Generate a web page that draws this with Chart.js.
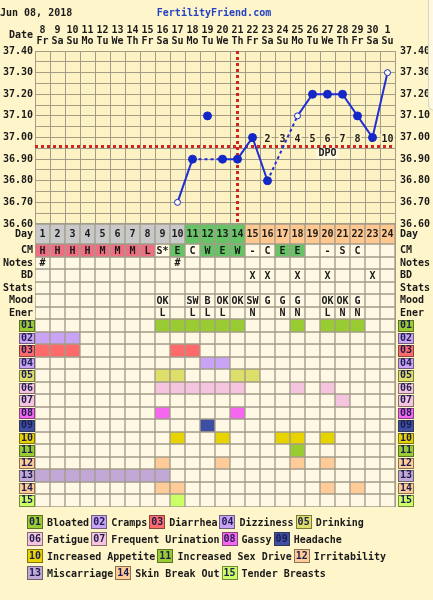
<!DOCTYPE html>
<html>
<head>
<meta charset="utf-8">
<title>Fertility chart</title>
<script src="https://cdn.jsdelivr.net/npm/chart.js@4.4.1/dist/chart.umd.min.js"></script>
<style>
html, body { margin: 0; padding: 0; }
body { width: 433px; height: 600px; overflow: hidden; position: relative; background: #FFF5CA;
  font-family: "DejaVu Sans Mono", monospace; font-weight: bold; font-size: 10px; color: #1a1a1a; }
#ff { position: absolute; left: 0; top: 0; }
.lbl { position: absolute; line-height: 12px; white-space: pre; }
#stamp { left: 0; top: 7px; }
#site { left: 0; width: 428px; top: 7px; text-align: center; color: #2443C4; }
#dateLbl { right: 400px; top: 29px; }
.lg-row { position: absolute; left: 27px; height: 14px; display: flex; align-items: center; white-space: pre; }
.lg-box { box-sizing: border-box; width: 16px; height: 14px; border: 1px solid rgba(40,40,20,0.55);
  text-align: center; line-height: 12px; color: #1c1c50; margin-right: 4px; }
.lg-text { margin-right: 2px; }
#edge { position: absolute; left: 428px; top: 0; width: 5px; height: 110px; border-left: 1px solid #DAD5C0;
  border-bottom: 1px solid #DAD5C0; border-bottom-left-radius: 6px; background: #FFF9E2; }
</style>
</head>
<body>
<canvas id="ff" width="433" height="600"></canvas>
<div id="stamp" class="lbl">Jun 08, 2018</div>
<div id="site" class="lbl">FertilityFriend.com</div>
<div id="dateLbl" class="lbl">Date</div>
<div id="legend"></div>
<div id="edge"></div>
<script>
/* Cycle chart: temperature curve on top, observation rows and symptom grid below */

// chart data
const cycleDays = ['1','2','3','4','5','6','7','8','9','10','11','12','13','14','15','16','17','18','19','20','21','22','23','24'];
const dates = ['8','9','10','11','12','13','14','15','16','17','18','19','20','21','22','23','24','25','26','27','28','29','30','1'];
const weekdays = ['Fr','Sa','Su','Mo','Tu','We','Th','Fr','Sa','Su','Mo','Tu','We','Th','Fr','Sa','Su','Mo','Tu','We','Th','Fr','Sa','Su'];
const tempLabels = ['36.60','36.70','36.80','36.90','37.00','37.10','37.20','37.30','37.40'];

const temps = [null, null, null, null, null, null, null, null, null, 36.70, 36.90, null,
  36.90, 36.90, 37.00, 36.80, null, 37.10, 37.20, 37.20, 37.20, 37.10, 37.00, 37.30];
const discardedTemps = [null, null, null, null, null, null, null, null, null, null, null, 37.10,
  null, null, null, null, null, null, null, null, null, null, null, null];
const openCircleDays = [10, 18, 24];
const coverline = 36.96;
const ovulationDay = 14;
const fertileDays = [11, 12, 13, 14];
const dpo = ['','','','','','','','','','','','','','','1','2','3','4','5','6','7','8','9','10'];

const cm = ['H','H','H','H','M','M','M','L','S*','E','C','W','E','W','-','C','E','E','','-','S','C','',''];
const notes = ['#','','','','','','','','','#','','','','','','','','','','','','','',''];
const bd = ['','','','','','','','','','','','','','','X','X','','X','','X','','','X',''];
const stats = ['','','','','','','','','','','','','','','','','','','','','','','',''];
const mood = ['','','','','','','','','OK','','SW','B','OK','OK','SW','G','G','G','','OK','OK','G','',''];
const energy = ['','','','','','','','','L','','L','L','L','','N','','N','N','','L','N','N','',''];

const symptomCodes = ['01','02','03','04','05','06','07','08','09','10','11','12','13','14','15'];
const symptomNames = ['Bloated','Cramps','Diarrhea','Dizziness','Drinking','Fatigue','Frequent Urination',
  'Gassy','Headache','Increased Appetite','Increased Sex Drive','Irritability','Miscarriage',
  'Skin Break Out','Tender Breasts'];
const symptomDays = [
  [9, 10, 11, 12, 13, 14, 18, 20, 21, 22],
  [1, 2, 3],
  [1, 2, 3, 10, 11],
  [12, 13],
  [9, 10, 14, 15],
  [9, 10, 11, 12, 13, 14, 18, 20],
  [21],
  [9, 14],
  [12],
  [10, 13, 17, 18, 20],
  [18],
  [9, 13, 18, 20],
  [1, 2, 3, 4, 5, 6, 7, 8, 9],
  [9, 10, 20, 22],
  [10]
];

// styles
const symptomColors = ['#99CC33','#C9A3F5','#FF6B6B','#C9A3F5','#DEDE6A','#F5C4DE','#F5C4DE','#F766F0',
  '#3E4FA3','#E6D300','#99CC33','#FFCC99','#C2A8D6','#FFCC99','#CCFF66'];
const INK = '#1a1a1a', CODE_INK = '#1c1c50';
const PLOT_BG = '#FDF2C4', CELL_BG = '#FFF8E4', CELL_LINE = '#A39D8A', GRID = '#A39D86';
const RED = '#D02525', BLUE = '#1F2FD6', DOT = '#1428C8', HOLLOW = '#FFF8EE';
const DAY_GRAY = '#C9C9C9', GREEN = '#66C466', PEACH = '#FFC890', PINK = '#EF6F82';
const FONT = '"DejaVu Sans Mono", monospace';
const FONT_STR = 'bold 10px ' + FONT;

// layout (pixels)
const W = 433, H = 600, TOP = 51, LEFT = 35, RIGHT = 395, TEMP_BOTTOM = 224, BOTTOM = 507;
const tempLow = 36.60, tempHigh = 37.40;
const pxPerDeg = (TEMP_BOTTOM - TOP) / (tempHigh - tempLow);
const tempAxisMin = tempLow - (BOTTOM - TEMP_BOTTOM) / pxPerDeg;
const DAY_ROW_H = 20;
const rowLabels = ['Day','CM','Notes','BD','Stats','Mood','Ener'].concat(symptomCodes);
const INFO_ROWS = 7;
const rowEdges = [0, DAY_ROW_H];
for (let i = 1; i < rowLabels.length; i++) {
  rowEdges.push(DAY_ROW_H + Math.round(i * (BOTTOM - TEMP_BOTTOM - DAY_ROW_H) / (rowLabels.length - 1)));
}
// table rows hang below the temperature range on the same y scale
const rowValue = px => tempLow - px / pxPerDeg;

// side ticks: temperature gridlines plus one label per table row
const sideTicks = [];
for (let k = 0; k <= 16; k++) {
  const v = Math.round((tempLow + k * 0.05) * 100) / 100;
  const s = v.toFixed(2);
  sideTicks.push({ value: v, label: tempLabels.includes(s) ? s : '', kind: 'temp' });
}
rowLabels.forEach((lab, r) => {
  sideTicks.push({ value: rowValue((rowEdges[r] + rowEdges[r + 1]) / 2), label: lab, kind: r >= INFO_ROWS ? 'sym' : 'row' });
});
sideTicks.sort((a, b) => a.value - b.value);

function cmColor(c) {
  if (c === 'H' || c === 'M' || c === 'L') return PINK;
  if (c === 'E' || c === 'W') return GREEN;
  return CELL_BG;
}
function dayColor(d) {
  if (fertileDays.includes(d)) return GREEN;
  if (d > ovulationDay) return PEACH;
  return DAY_GRAY;
}
function rowColors(r) {
  return cycleDays.map((_, i) => {
    const d = i + 1;
    if (r === 0) return dayColor(d);
    if (r === 1) return cmColor(cm[i]);
    if (r >= INFO_ROWS) {
      const s = r - INFO_ROWS;
      return symptomDays[s].includes(d) ? symptomColors[s] : CELL_BG;
    }
    return CELL_BG;
  });
}

// dashed where the curve jumps over a day with no temperature
const gapDash = c => (temps[c.p1DataIndex - 1] == null ? [3, 3] : undefined);

const datasets = [];
datasets.push({
  type: 'line', yAxisID: 'y', data: temps, order: 0,
  borderColor: BLUE, borderWidth: 2, spanGaps: true,
  segment: { borderDash: gapDash },
  pointRadius: temps.map((_, i) => openCircleDays.includes(i + 1) ? 3 : 4),
  pointBackgroundColor: temps.map((_, i) => openCircleDays.includes(i + 1) ? HOLLOW : DOT),
  pointBorderColor: DOT, pointBorderWidth: 1
});
datasets.push({
  type: 'line', yAxisID: 'y', data: discardedTemps, order: 0, showLine: false,
  pointRadius: 4, pointBackgroundColor: DOT, pointBorderColor: DOT, pointBorderWidth: 1
});
rowLabels.forEach((_, r) => {
  datasets.push({
    type: 'bar', yAxisID: 'y', grouped: false, order: 5,
    data: cycleDays.map(() => [rowValue(rowEdges[r + 1]), rowValue(rowEdges[r])]),
    backgroundColor: rowColors(r), borderColor: CELL_LINE, borderWidth: 1, borderSkipped: false,
    barPercentage: 1, categoryPercentage: 1
  });
});

const cellText = [[0, cycleDays], [1, cm], [2, notes], [3, bd], [4, stats], [5, mood], [6, energy]];

const sheet = {
  id: 'sheet',
  beforeDraw(chart) {
    const { ctx, chartArea: a, scales } = chart;
    const yT = scales.y;
    const rowPx = v => yT.getPixelForValue(rowValue(v));
    ctx.save();
    ctx.fillStyle = PLOT_BG;
    ctx.fillRect(a.left, a.top, a.right - a.left, yT.getPixelForValue(tempLow) - a.top);
    symptomCodes.forEach((code, i) => {
      const r = INFO_ROWS + i;
      const top = Math.round(rowPx(rowEdges[r])) + 1;
      const h = Math.round(rowPx(rowEdges[r + 1])) - top;
      [a.left - 16, a.right + 3].forEach(bx => {
        ctx.fillStyle = symptomColors[i];
        ctx.fillRect(bx, top, 16, h);
        ctx.strokeStyle = 'rgba(40,40,20,0.55)';
        ctx.lineWidth = 1;
        ctx.strokeRect(bx + 0.5, top + 0.5, 15, h - 1);
      });
    });
    ctx.restore();
  },
  beforeDatasetsDraw(chart) {
    const { ctx, chartArea: a, scales } = chart;
    const x = scales.x, yT = scales.y;
    const yBase = yT.getPixelForValue(tempLow);
    ctx.save();
    // coverline and ovulation line
    ctx.strokeStyle = RED; ctx.lineWidth = 3; ctx.setLineDash([3, 3]);
    const yC = Math.round(yT.getPixelForValue(coverline)) + 0.5;
    ctx.beginPath(); ctx.moveTo(a.left, yC); ctx.lineTo(a.right, yC); ctx.stroke();
    const xo = x.getPixelForValue(ovulationDay - 1);
    ctx.beginPath(); ctx.moveTo(xo, a.top); ctx.lineTo(xo, yBase); ctx.stroke();
    ctx.setLineDash([]);
    // days past ovulation
    ctx.font = FONT_STR; ctx.textAlign = 'center'; ctx.textBaseline = 'middle';
    const yD = yT.getPixelForValue(37.00) + 1.5;
    dpo.forEach((t, i) => {
      if (!t) return;
      const xc = x.getPixelForValue(i);
      const w = ctx.measureText(t).width;
      ctx.fillStyle = PLOT_BG;
      ctx.fillRect(xc - w / 2 - 1, yD - 5, w + 2, 10);
      ctx.fillStyle = INK;
      ctx.fillText(t, xc, yD);
    });
    const xl = x.getPixelForValue(ovulationDay + 5);
    const yl = yC + 7;
    const wl = ctx.measureText('DPO').width;
    ctx.fillStyle = CELL_BG;
    ctx.fillRect(xl - wl / 2 - 2, yl - 5, wl + 4, 10);
    ctx.fillStyle = INK;
    ctx.fillText('DPO', xl, yl);
    ctx.restore();
  },
  afterDatasetsDraw(chart) {
    const { ctx, scales } = chart;
    const x = scales.x, yT = scales.y;
    ctx.save();
    ctx.font = FONT_STR; ctx.textAlign = 'center'; ctx.textBaseline = 'middle'; ctx.fillStyle = INK;
    cellText.forEach(([r, arr]) => {
      const yc = yT.getPixelForValue(rowValue((rowEdges[r] + rowEdges[r + 1]) / 2)) + 0.5;
      arr.forEach((t, i) => { if (t) ctx.fillText(t, x.getPixelForValue(i), yc); });
    });
    ctx.restore();
  }
};

const sideAxis = (position, width, padding, showGrid) => ({
  type: 'linear', position, min: tempAxisMin, max: tempHigh, bounds: 'data',
  afterBuildTicks: s => { s.ticks = sideTicks.map(t => ({ value: t.value })); },
  afterFit: s => { s.width = width; },
  grid: {
    display: showGrid, drawTicks: false, lineWidth: 1,
    color: c => (sideTicks[c.index] && sideTicks[c.index].kind === 'temp' ? GRID : 'rgba(0,0,0,0)')
  },
  border: { display: false },
  ticks: {
    autoSkip: false, padding,
    color: c => (sideTicks[c.index] && sideTicks[c.index].kind === 'sym' ? CODE_INK : INK),
    font: { family: FONT, size: 10, weight: 'bold' },
    callback: (v, i) => sideTicks[i].label
  }
});

new Chart(document.getElementById('ff'), {
  type: 'bar',
  data: { labels: cycleDays, datasets },
  options: {
    responsive: false, animation: false, events: [], devicePixelRatio: 1,
    layout: { padding: { top: 0, left: 0, right: 0, bottom: H - BOTTOM } },
    plugins: { legend: { display: false }, tooltip: { enabled: false } },
    scales: {
      x: {
        type: 'category', position: 'top', offset: true,
        grid: { offset: true, color: GRID, drawTicks: false, lineWidth: 1 },
        border: { color: GRID },
        afterFit: s => { s.height = TOP; },
        ticks: {
          autoSkip: false, maxRotation: 0, padding: 4, color: INK,
          font: { family: FONT, size: 10, weight: 'bold', lineHeight: 1.1 },
          callback: (v, i) => [dates[i], weekdays[i]]
        }
      },
      y: sideAxis('left', LEFT, 2, true),
      y2: sideAxis('right', W - RIGHT, 5, false)
    }
  },
  plugins: [sheet]
});

// symptom key under the grid
const legendRows = [[0, 1, 2, 3, 4], [5, 6, 7, 8], [9, 10, 11], [12, 13, 14]];
const legendTops = [515, 532, 549, 566];
const legendEl = document.getElementById('legend');
legendRows.forEach((idx, n) => {
  const row = document.createElement('div');
  row.className = 'lg-row';
  row.style.top = legendTops[n] + 'px';
  idx.forEach(i => {
    const box = document.createElement('span');
    box.className = 'lg-box';
    box.style.background = symptomColors[i];
    box.textContent = symptomCodes[i];
    const txt = document.createElement('span');
    txt.className = 'lg-text';
    txt.textContent = symptomNames[i];
    row.appendChild(box);
    row.appendChild(txt);
  });
  legendEl.appendChild(row);
});
</script>
</body>
</html>
